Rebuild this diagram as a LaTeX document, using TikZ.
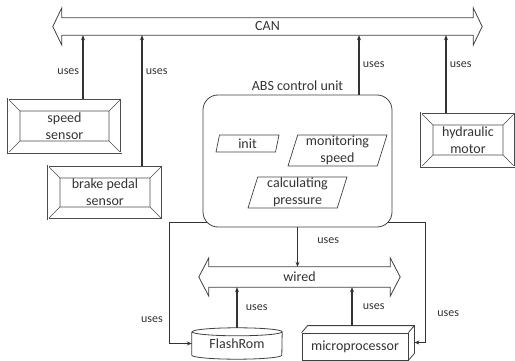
\documentclass[tikz,border=0pt]{standalone}
\usepackage{fontspec}
\setmainfont{Carlito}
\usetikzlibrary{arrows.meta,shapes.geometric}

\newcommand{\busarrow}[3]{%
  \draw[busline] (#1.north west) -- (#1.north east) -- ([yshift=#2]#1.north east)
    -- ([xshift=#3]#1.east) -- ([yshift=-#2]#1.south east) -- (#1.south east)
    -- (#1.south west) -- ([yshift=-#2]#1.south west) -- ([xshift=-#3]#1.west)
    -- ([yshift=#2]#1.north west) -- cycle;}

\tikzset{
  every node/.style={text=black!80, font=\fontsize{14}{17}\selectfont},
  usestext/.style={font=\fontsize{12}{14}\selectfont},
  busline/.style={draw=black!75, line width=0.8pt},
  shp/.style={draw=black!75, line width=0.8pt},
  conn/.style={draw=black!80, line width=1.1pt, -{Stealth[length=5pt,width=4pt]}},
  sensorbox/.style={draw=black!70, double, double distance=1pt, line width=0.5pt, align=center,
    path picture={
      \def\ppb{path picture bounding box}
      \draw[black!70, line width=0.6pt]
        ([shift={(12pt,-12pt)}]\ppb.north west) rectangle ([shift={(-12pt,12pt)}]\ppb.south east)
        (\ppb.north west) -- ([shift={(12pt,-12pt)}]\ppb.north west)
        (\ppb.north east) -- ([shift={(-12pt,-12pt)}]\ppb.north east)
        (\ppb.south west) -- ([shift={(12pt,12pt)}]\ppb.south west)
        (\ppb.south east) -- ([shift={(-12pt,12pt)}]\ppb.south east);
    }},
  unitbox/.style={shp, rounded corners=15pt},
  task/.style={trapezium, trapezium left angle=72, trapezium right angle=108,
    trapezium stretches body, shp, line width=0.7pt, align=center, inner sep=0.5pt},
}

\begin{document}
\begin{tikzpicture}[x=1pt,y=-1pt]
\useasboundingbox (0,0) rectangle (515,361);

% buses
\node (can) at (267.5,26.5) [minimum width=411pt, minimum height=17pt] {CAN};
\node (wired) at (299.5,277) [minimum width=181pt, minimum height=20pt] {wired};
\busarrow{can}{10pt}{9pt}
\busarrow{wired}{9pt}{10pt}

% sensors and motor
\node[sensorbox, minimum width=113pt, minimum height=54pt] (speed) at (64.5,126) {speed\\sensor};
\node[sensorbox, minimum width=114pt, minimum height=53pt] (brake) at (105,192.5) {brake pedal\\sensor};
\node[sensorbox, minimum width=94pt, minimum height=54pt] (hydraulic) at (468,140) {hydraulic\\motor};

% control unit
\node[unitbox, minimum width=189pt, minimum height=132pt,
  label={[label distance=0pt]above:ABS control unit}] (abs) at (297.5,161) {};
\node[task, minimum width=63pt, minimum height=17pt] (init) at (247.5,143.5) {init};
\node[task, minimum width=99pt, minimum height=31pt] (monitor) at (337.5,150.5) {monitoring\\speed};
\node[task, minimum width=99pt, minimum height=31pt] (calc) at (297.5,192.5) {calculating\\pressure};

% hardware
\node[minimum width=90pt, minimum height=31pt] (flash) at (237,343.5) {FlashRom};
\draw[shp] ([yshift=-4pt]flash.north west) -- ([yshift=4pt]flash.south west)
  arc[start angle=180, end angle=360, x radius=45pt, y radius=4pt]
  -- ([yshift=-4pt]flash.north east)
  arc[start angle=0, end angle=180, x radius=45pt, y radius=4pt]
  arc[start angle=180, end angle=360, x radius=45pt, y radius=4pt];
\node[shp, minimum width=106pt, minimum height=27pt] (mp) at (355,346.5) {microprocessor};
\draw[shp] (mp.north west) -- ++(6pt,7pt) -- ([shift={(6pt,7pt)}]mp.north east)
  -- ([shift={(6pt,7pt)}]mp.south east) -- (mp.south east)
  (mp.north east) -- ([shift={(6pt,7pt)}]mp.north east);

% connectors
\draw[conn] ([xshift=18.5pt]speed.north) -- ([xshift=18.5pt]speed.north |- can.south) node[pos=0.42, left, usestext]{uses};
\draw[conn] ([xshift=37pt]brake.north) -- ([xshift=37pt]brake.north |- can.south) node[pos=0.72, right, usestext]{uses};
\draw[conn] ([xshift=61.5pt]abs.north) -- ([xshift=61.5pt]abs.north |- can.south) node[pos=0.5, right, usestext]{uses};
\draw[conn] ([xshift=-22pt]hydraulic.north) -- ([xshift=-22pt]hydraulic.north |- can.south) node[pos=0.62, right, usestext]{uses};
\draw[conn] (abs.south) -- (abs.south |- wired.north) node[pos=0.33, right, xshift=16pt, usestext]{uses};
\draw[conn] (flash.north) -- (flash.north |- wired.south) node[pos=0.49, right, xshift=5pt, usestext]{uses};
\draw[conn] ([xshift=-3pt,yshift=7pt]mp.north) -- ([xshift=-3pt]mp.north |- wired.south) node[pos=0.49, right, xshift=7pt, usestext]{uses};
\draw[conn] ([xshift=4pt,yshift=5pt]abs.south west) -- ++(-37,0) |- (flash.west) node[pos=0.4, left, xshift=-3pt, usestext]{uses};
\draw[conn] ([xshift=-4pt,yshift=5pt]abs.south east) -- ++(37,0) |- ([xshift=6pt,yshift=4pt]mp.east) node[pos=0.378, right, xshift=8pt, usestext]{uses};
\end{tikzpicture}
\end{document}
